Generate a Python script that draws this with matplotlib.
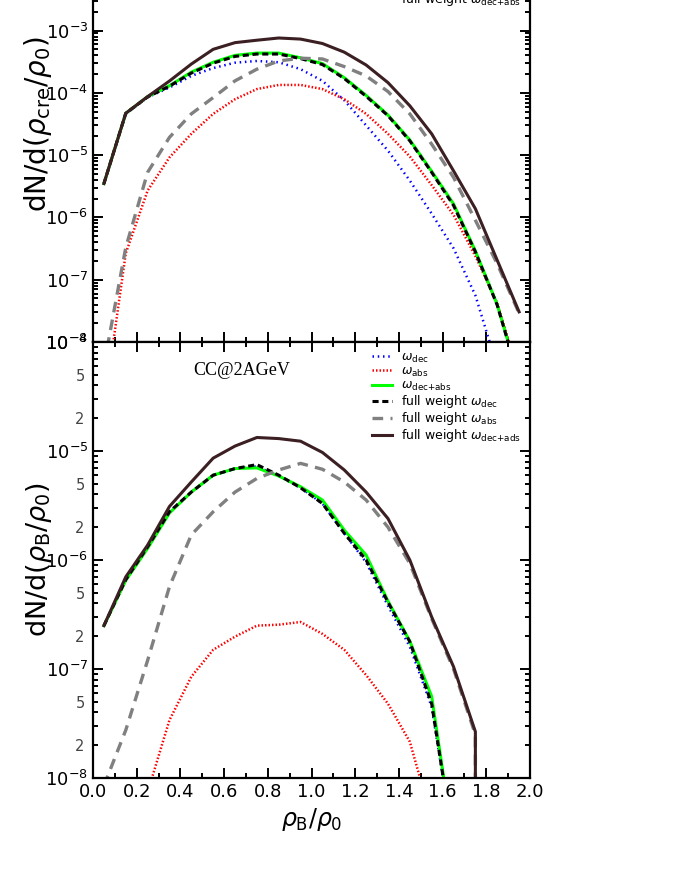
import numpy as np
import matplotlib
matplotlib.use("Agg")
import matplotlib.pyplot as plt
from matplotlib.ticker import FixedLocator, FuncFormatter, MultipleLocator, NullFormatter

plt.rcParams['font.family'] = ['DejaVu Sans']
plt.rcParams['mathtext.fontset'] = 'dejavusans'

# bin centres of rho/rho0
x = [0.05, 0.15, 0.25, 0.35, 0.45, 0.55, 0.65, 0.75, 0.85, 0.95,
     1.05, 1.15, 1.25, 1.35, 1.45, 1.55, 1.65, 1.75, 1.85, 1.95]

# ---- top panel: dN/d(rho_cre/rho0)
top_dec = [3.5e-6, 4.6e-5, 8.5e-5, 1.22e-4, 1.87e-4, 2.5e-4, 3.05e-4, 3.25e-4, 3.1e-4, 2.4e-4,
           1.56e-4, 7.6e-5, 3.0e-5, 1.18e-5, 3.9e-6, 1.15e-6, 3.2e-7, 5.6e-8, 4e-9, 0.0]
top_abs = [8.5e-10, 2.65e-7, 2.7e-6, 9.2e-6, 2.2e-5, 4.6e-5, 7.9e-5, 1.15e-4, 1.34e-4, 1.34e-4,
           1.15e-4, 7.9e-5, 4.6e-5, 2.2e-5, 9.5e-6, 3.3e-6, 1.1e-6, 2.4e-7, 4.2e-8, 3e-9]
top_decabs = [3.5e-6, 4.7e-5, 8.7e-5, 1.3e-4, 2.15e-4, 3.1e-4, 4.0e-4, 4.35e-4, 4.35e-4, 3.65e-4,
              2.95e-4, 1.75e-4, 9.1e-5, 4.4e-5, 1.75e-5, 5.5e-6, 1.65e-6, 2.9e-7, 4.0e-8, 2.5e-9]
top_full_dec = [3.5e-6, 4.7e-5, 8.6e-5, 1.28e-4, 2.08e-4, 3.0e-4, 3.85e-4, 4.2e-4, 4.2e-4, 3.55e-4,
                2.85e-4, 1.7e-4, 8.8e-5, 4.3e-5, 1.7e-5, 5.3e-6, 1.56e-6, 2.8e-7, 3.9e-8, 2.5e-9]
top_full_abs = [4.2e-9, 3.3e-7, 5.3e-6, 1.93e-5, 4.6e-5, 8.4e-5, 1.56e-4, 2.4e-4, 3.25e-4, 3.6e-4,
                3.5e-4, 2.64e-4, 1.87e-4, 1.05e-4, 4.6e-5, 1.5e-5, 4.4e-6, 9e-7, 1.8e-7, 2.9e-8]
top_full_decabs = [3.5e-6, 4.7e-5, 8.7e-5, 1.55e-4, 2.9e-4, 5.0e-4, 6.4e-4, 7.0e-4, 7.6e-4, 7.3e-4,
                   6.2e-4, 4.5e-4, 2.8e-4, 1.46e-4, 6.2e-5, 2.2e-5, 5.6e-6, 1.38e-6, 2.05e-7, 3.05e-8]

# ---- bottom panel: dN/d(rho_B/rho0)
bot_dec = [2.5e-7, 6.6e-7, 1.32e-6, 2.77e-6, 4.2e-6, 6.0e-6, 6.9e-6, 7.2e-6, 5.9e-6, 4.6e-6,
           3.3e-6, 1.76e-6, 9.5e-7, 3.8e-7, 1.6e-7, 4.5e-8, 2.5e-9, 0.0, 0.0, 0.0]
bot_abs = [0.0, 0.0, 7.4e-9, 3.4e-8, 8.5e-8, 1.5e-7, 1.98e-7, 2.5e-7, 2.55e-7, 2.7e-7,
           2.1e-7, 1.5e-7, 8.8e-8, 4.8e-8, 2.15e-8, 4.2e-9, 0.0, 0.0, 0.0, 0.0]
bot_decabs = [2.5e-7, 6.5e-7, 1.28e-6, 2.7e-6, 4.2e-6, 6.0e-6, 6.9e-6, 7.0e-6, 5.9e-6, 4.7e-6,
              3.55e-6, 1.88e-6, 1.11e-6, 4.2e-7, 1.8e-7, 5.6e-8, 2.5e-9, 0.0, 0.0, 0.0]
bot_full_dec = [2.5e-7, 6.6e-7, 1.32e-6, 2.77e-6, 4.2e-6, 6.0e-6, 6.9e-6, 7.5e-6, 6.0e-6, 4.6e-6,
                3.3e-6, 1.76e-6, 1.0e-6, 4.1e-7, 1.78e-7, 4.8e-8, 2.5e-9, 0.0, 0.0, 0.0]
bot_full_abs = [8.5e-9, 2.75e-8, 1.2e-7, 5.7e-7, 1.7e-6, 2.77e-6, 4.2e-6, 5.6e-6, 6.7e-6, 7.7e-6,
                6.8e-6, 5.2e-6, 3.55e-6, 2.0e-6, 9.3e-7, 2.9e-7, 1.0e-7, 2.5e-8, 0.0, 0.0]
bot_full_decabs = [2.5e-7, 7.0e-7, 1.37e-6, 3.1e-6, 5.2e-6, 8.6e-6, 1.11e-5, 1.33e-5, 1.3e-5, 1.23e-5,
                   9.7e-6, 6.7e-6, 4.2e-6, 2.4e-6, 1.0e-6, 3.0e-7, 1.05e-7, 2.66e-8, 0.0, 0.0]

labels_top = [r'$\omega_{\rm dec}$', r'$\omega_{\rm abs}$', r'$\omega_{\rm dec{+}abs}$',
              r'full weight $\omega_{\rm dec}$', r'full weight $\omega_{\rm abs}$',
              r'full weight $\omega_{\rm dec{+}abs}$']
labels_bot = [r'$\omega_{\rm dec}$', r'$\omega_{\rm abs}$', r'$\omega_{\rm dec{+}abs}$',
              r'full weight $\omega_{\rm dec}$', r'full weight $\omega_{\rm abs}$',
              r'full weight $\omega_{\rm dec{+}ads}$']

styles = [
    dict(color='#0000ff', lw=1.8, ls=(0, (0.6, 1.5))),
    dict(color='#ff0000', lw=1.8, ls=(0, (0.6, 0.8))),
    dict(color='#00ff00', lw=2.2, ls='-'),
    dict(color='#000000', lw=2.2, ls=(0, (2.0, 1.2))),
    dict(color='#808080', lw=2.4, ls=(0, (3.2, 2.2))),
    dict(color='#3b1f22', lw=2.2, ls='-'),
]

fig = plt.figure(figsize=(6.74, 8.72), dpi=100)
L, W = 93 / 674, 437 / 674
ax_top = fig.add_axes([L, 1 - 342 / 872, W, 0.5])
ax_bot = fig.add_axes([L, 1 - 778 / 872, W, 0.5])


def sup_fmt(v, pos):
    e = int(round(np.log10(v)))
    return r'$10^{%d}$' % e


def minor_fmt(v, pos):
    m = v / 10 ** np.floor(np.log10(v) + 1e-9)
    m = int(round(m))
    return str(m) if m in (2, 5) else ''


def setup(ax, ylo, yhi, minor_labels):
    ax.set_yscale('log')
    ax.set_xlim(0.0, 2.0)
    ax.set_ylim(10.0 ** ylo, 10.0 ** yhi)
    majors = [10.0 ** e for e in range(ylo, yhi + 1)]
    minors = [m * 10.0 ** e for e in range(ylo, yhi) for m in range(2, 10)]
    ax.yaxis.set_major_locator(FixedLocator(majors))
    ax.yaxis.set_minor_locator(FixedLocator(minors))
    ax.yaxis.set_major_formatter(FuncFormatter(sup_fmt))
    if minor_labels:
        ax.yaxis.set_minor_formatter(FuncFormatter(minor_fmt))
    else:
        ax.yaxis.set_minor_formatter(NullFormatter())
    ax.xaxis.set_major_locator(MultipleLocator(0.2))
    ax.xaxis.set_minor_locator(MultipleLocator(0.1))
    ax.xaxis.set_major_formatter(FuncFormatter(lambda v, p: '%.1f' % v))
    ax.tick_params(which='both', direction='in', top=True, right=True, width=1.4)
    ax.tick_params(which='major', length=7, labelsize=13)
    ax.tick_params(which='minor', length=3.5, labelsize=10.5, pad=6)
    ax.tick_params(axis='y', which='minor', labelcolor='#444444')
    for s in ax.spines.values():
        s.set_linewidth(1.6)


for ax, series, labels in [
    (ax_top, [top_dec, top_abs, top_decabs, top_full_dec, top_full_abs, top_full_decabs], labels_top),
    (ax_bot, [bot_dec, bot_abs, bot_decabs, bot_full_dec, bot_full_abs, bot_full_decabs], labels_bot),
]:
    for y, st, lab in zip(series, styles, labels):
        ax.plot(x, y, label=lab, **st)
    ax.text(0.34, 0.935, 'CC@2AGeV', transform=ax.transAxes, ha='center', va='center',
            fontsize=13, family='Liberation Serif')
    ax.legend(loc='upper right', bbox_to_anchor=(1.0, 1.0), frameon=False, fontsize=9,
              handlelength=1.6, handletextpad=0.7, labelspacing=0.0, borderaxespad=0.3)

setup(ax_top, -8, -1, False)
setup(ax_bot, -8, -4, True)
ax_top.tick_params(axis='x', labelbottom=False)

ax_top.set_ylabel(r'dN/d($\rho_{\rm cre}/\rho_0$)', fontsize=20)
ax_bot.set_ylabel(r'dN/d($\rho_{\rm B}/\rho_0$)', fontsize=19.5)
ax_top.yaxis.set_label_coords(-0.09, 0.5)
ax_bot.yaxis.set_label_coords(-0.09, 0.5)
ax_bot.set_xlabel(r'$\rho_{\rm B}/\rho_0$', fontsize=17)

fig.savefig('out.png', dpi=100)
